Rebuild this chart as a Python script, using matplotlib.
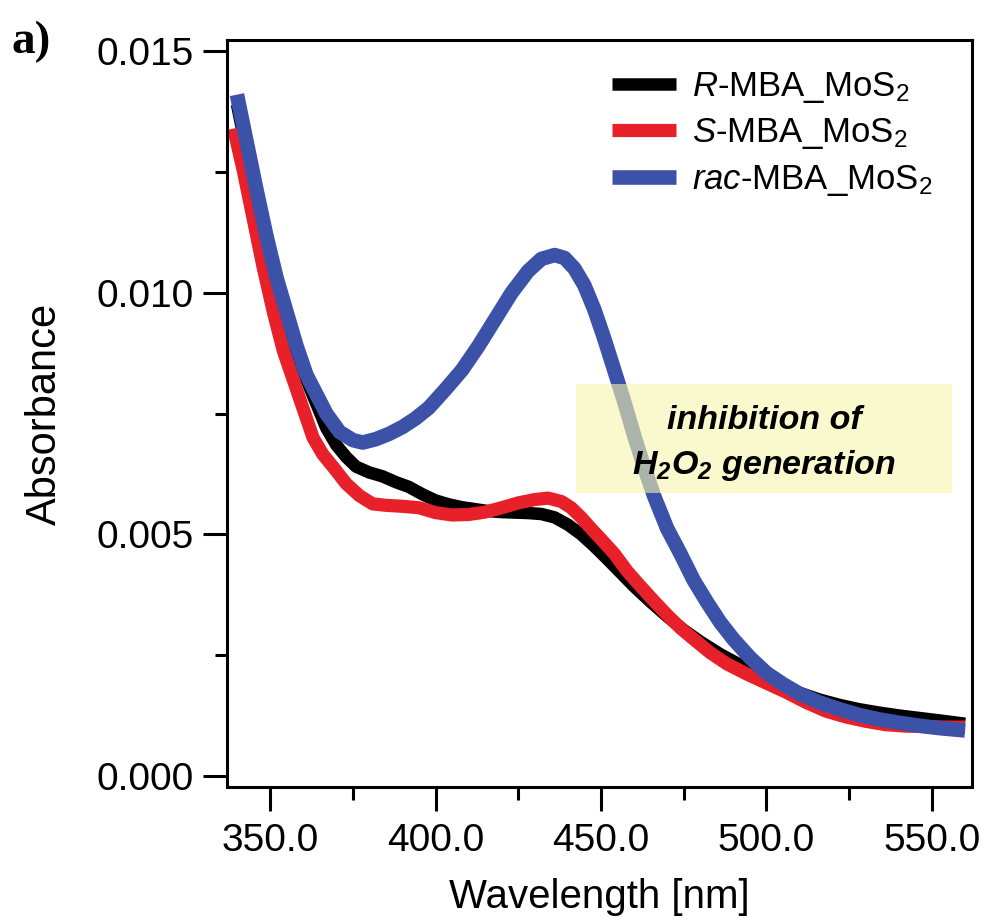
import matplotlib
matplotlib.use("Agg")
import matplotlib.pyplot as plt
from matplotlib.patches import Rectangle
from matplotlib.ticker import MultipleLocator, FormatStrFormatter

plt.rcParams['font.family'] = 'Liberation Sans'
plt.rcParams['mathtext.fontset'] = 'custom'
plt.rcParams['mathtext.rm'] = 'Liberation Sans'
plt.rcParams['mathtext.it'] = 'Liberation Sans:italic'
plt.rcParams['mathtext.bf'] = 'Liberation Sans:bold'
plt.rcParams['mathtext.default'] = 'regular'  # subscripts use the text's own font

# --- data (wavelength in nm, absorbance) ---
wl_rac = [340, 343, 346, 349, 352, 355, 358, 361, 364, 367, 371, 375, 378, 382,
          386, 390, 394, 398, 403, 408, 413, 418, 423, 428, 432, 436, 439, 442,
          445, 448, 451, 454, 457, 460, 463, 466, 470, 474, 478, 482, 486, 490,
          495, 500, 505, 510, 516, 522, 528, 534, 540, 546, 552, 560]
abs_rac = [0.0141, 0.0131, 0.0121, 0.01115, 0.0103, 0.0096, 0.0089, 0.0083,
           0.0079, 0.0075, 0.00712, 0.00695, 0.00690, 0.00697, 0.00708, 0.00722,
           0.00740, 0.00762, 0.00800, 0.00840, 0.00890, 0.00945, 0.01000, 0.01045,
           0.01070, 0.01078, 0.01072, 0.01050, 0.01015, 0.00965, 0.00905, 0.00840,
           0.00775, 0.00705, 0.00640, 0.00580, 0.00512, 0.00460, 0.00405, 0.00360,
           0.00318, 0.00283, 0.00245, 0.00213, 0.00190, 0.00170, 0.00152, 0.00138,
           0.00126, 0.00117, 0.00110, 0.00104, 0.00099, 0.00094]

wl_S = [339, 342, 345, 348, 351, 354, 357, 360, 363, 366, 369, 373, 377, 381,
        385, 390, 395, 400, 405, 410, 415, 420, 425, 430, 434, 438, 441, 444,
        447, 450, 454, 458, 462, 466, 470, 474, 478, 483, 488, 494, 500, 506,
        512, 518, 524, 530, 536, 542, 548, 554, 560]
abs_S = [0.0134, 0.0125, 0.0115, 0.0105, 0.0096, 0.0088, 0.0082, 0.0076, 0.0070,
         0.00665, 0.00640, 0.00605, 0.00580, 0.00563, 0.00560, 0.00558, 0.00555,
         0.00545, 0.00540, 0.00541, 0.00546, 0.00555, 0.00565, 0.00572, 0.00575,
         0.00568, 0.00555, 0.00535, 0.00512, 0.00490, 0.00460, 0.00423, 0.00392,
         0.00362, 0.00333, 0.00306, 0.00283, 0.00255, 0.00232, 0.00211, 0.00192,
         0.00173, 0.00152, 0.00134, 0.00122, 0.00113, 0.00106, 0.00103, 0.00102,
         0.00101, 0.00101]

wl_R = [340, 343, 346, 349, 352, 355, 358, 361, 364, 367, 370, 373, 376, 380,
        384, 388, 392, 396, 400, 404, 408, 412, 416, 420, 424, 428, 432, 436,
        440, 444, 448, 452, 456, 460, 465, 470, 475, 480, 486, 492, 498, 504,
        510, 516, 522, 528, 534, 540, 546, 552, 560]
abs_R = [0.0139, 0.0129, 0.0119, 0.0110, 0.0102, 0.0095, 0.0088, 0.0082, 0.0077,
         0.0072, 0.00685, 0.00660, 0.00640, 0.00628, 0.00620, 0.00608, 0.00598,
         0.00583, 0.00570, 0.00562, 0.00556, 0.00552, 0.00548, 0.00546, 0.00545,
         0.00544, 0.00542, 0.00535, 0.00520, 0.00500, 0.00475, 0.00448, 0.00420,
         0.00392, 0.00360, 0.00330, 0.00302, 0.00278, 0.00252, 0.00230, 0.00210,
         0.00190, 0.00172, 0.00158, 0.00147, 0.00138, 0.00131, 0.00125, 0.00120,
         0.00115, 0.00108]

labels = [r'$\mathit{R}$-MBA_MoS$_2$', r'$\mathit{S}$-MBA_MoS$_2$',
          r'$\mathit{rac}$-MBA_MoS$_2$']
colors = ['#000000', '#e8202a', '#3b52a8']

fig = plt.figure(figsize=(9.9, 9.21), dpi=100)
ax = fig.add_axes([0.2293, 0.1455, 0.7525, 0.811])

# draw order: black under red under blue
ax.plot(wl_R, abs_R, color=colors[0], lw=9, solid_capstyle='butt',
        solid_joinstyle='round', label=labels[0], zorder=2)
ax.plot(wl_S, abs_S, color=colors[1], lw=9.5, solid_capstyle='butt',
        solid_joinstyle='round', label=labels[1], zorder=2.1)
ax.plot(wl_rac, abs_rac, color=colors[2], lw=10.5, solid_capstyle='butt',
        solid_joinstyle='round', label=labels[2], zorder=2.2)

ax.set_xlim(337.0, 562.1)
ax.set_ylim(-0.00023, 0.01523)

ax.xaxis.set_major_locator(MultipleLocator(50))
ax.xaxis.set_minor_locator(MultipleLocator(25))
ax.yaxis.set_major_locator(MultipleLocator(0.005))
ax.yaxis.set_minor_locator(MultipleLocator(0.0025))
ax.xaxis.set_major_formatter(FormatStrFormatter('%.1f'))
ax.yaxis.set_major_formatter(FormatStrFormatter('%.3f'))

for s in ax.spines.values():
    s.set_linewidth(2.2)
ax.tick_params(which='major', length=17, width=2.2, labelsize=28)
ax.tick_params(which='minor', length=9, width=2.2)
ax.tick_params(axis='x', which='major', pad=9)
ax.tick_params(axis='y', which='major', pad=7)

ax.set_xlabel('Wavelength [nm]', fontsize=29)
ax.set_ylabel('Absorbance', fontsize=30)
ax.xaxis.set_label_coords(0.5, -0.122)
ax.yaxis.set_label_coords(-0.218, 0.5)

leg = ax.legend(loc='upper left', bbox_to_anchor=(0.517, 0.96), frameon=False,
                fontsize=25, handlelength=1.85, handletextpad=0.45,
                labelspacing=0.33, borderpad=0, borderaxespad=0)
leg.set_zorder(5)

# yellow note box, semi transparent so the blue line shows through
ax.add_patch(Rectangle((0.4685, 0.3936), 0.5047, 0.146, transform=ax.transAxes,
                       facecolor='#f6f6ac', edgecolor='none', alpha=0.6, zorder=3))
ax.text(0.7208, 0.4913, 'inhibition of', transform=ax.transAxes, ha='center',
        va='center', fontsize=24.5, fontweight='bold', style='italic', zorder=4)
ax.text(0.7208, 0.431, 'H$_2$O$_2$ generation', transform=ax.transAxes, ha='center',
        va='center', fontsize=24.5, fontweight='bold', style='italic', zorder=4)

fig.text(0.012, 0.978, 'a)', family='Liberation Serif', fontweight='bold',
         fontsize=34, va='top', ha='left')

fig.savefig('out.png', dpi=100)
